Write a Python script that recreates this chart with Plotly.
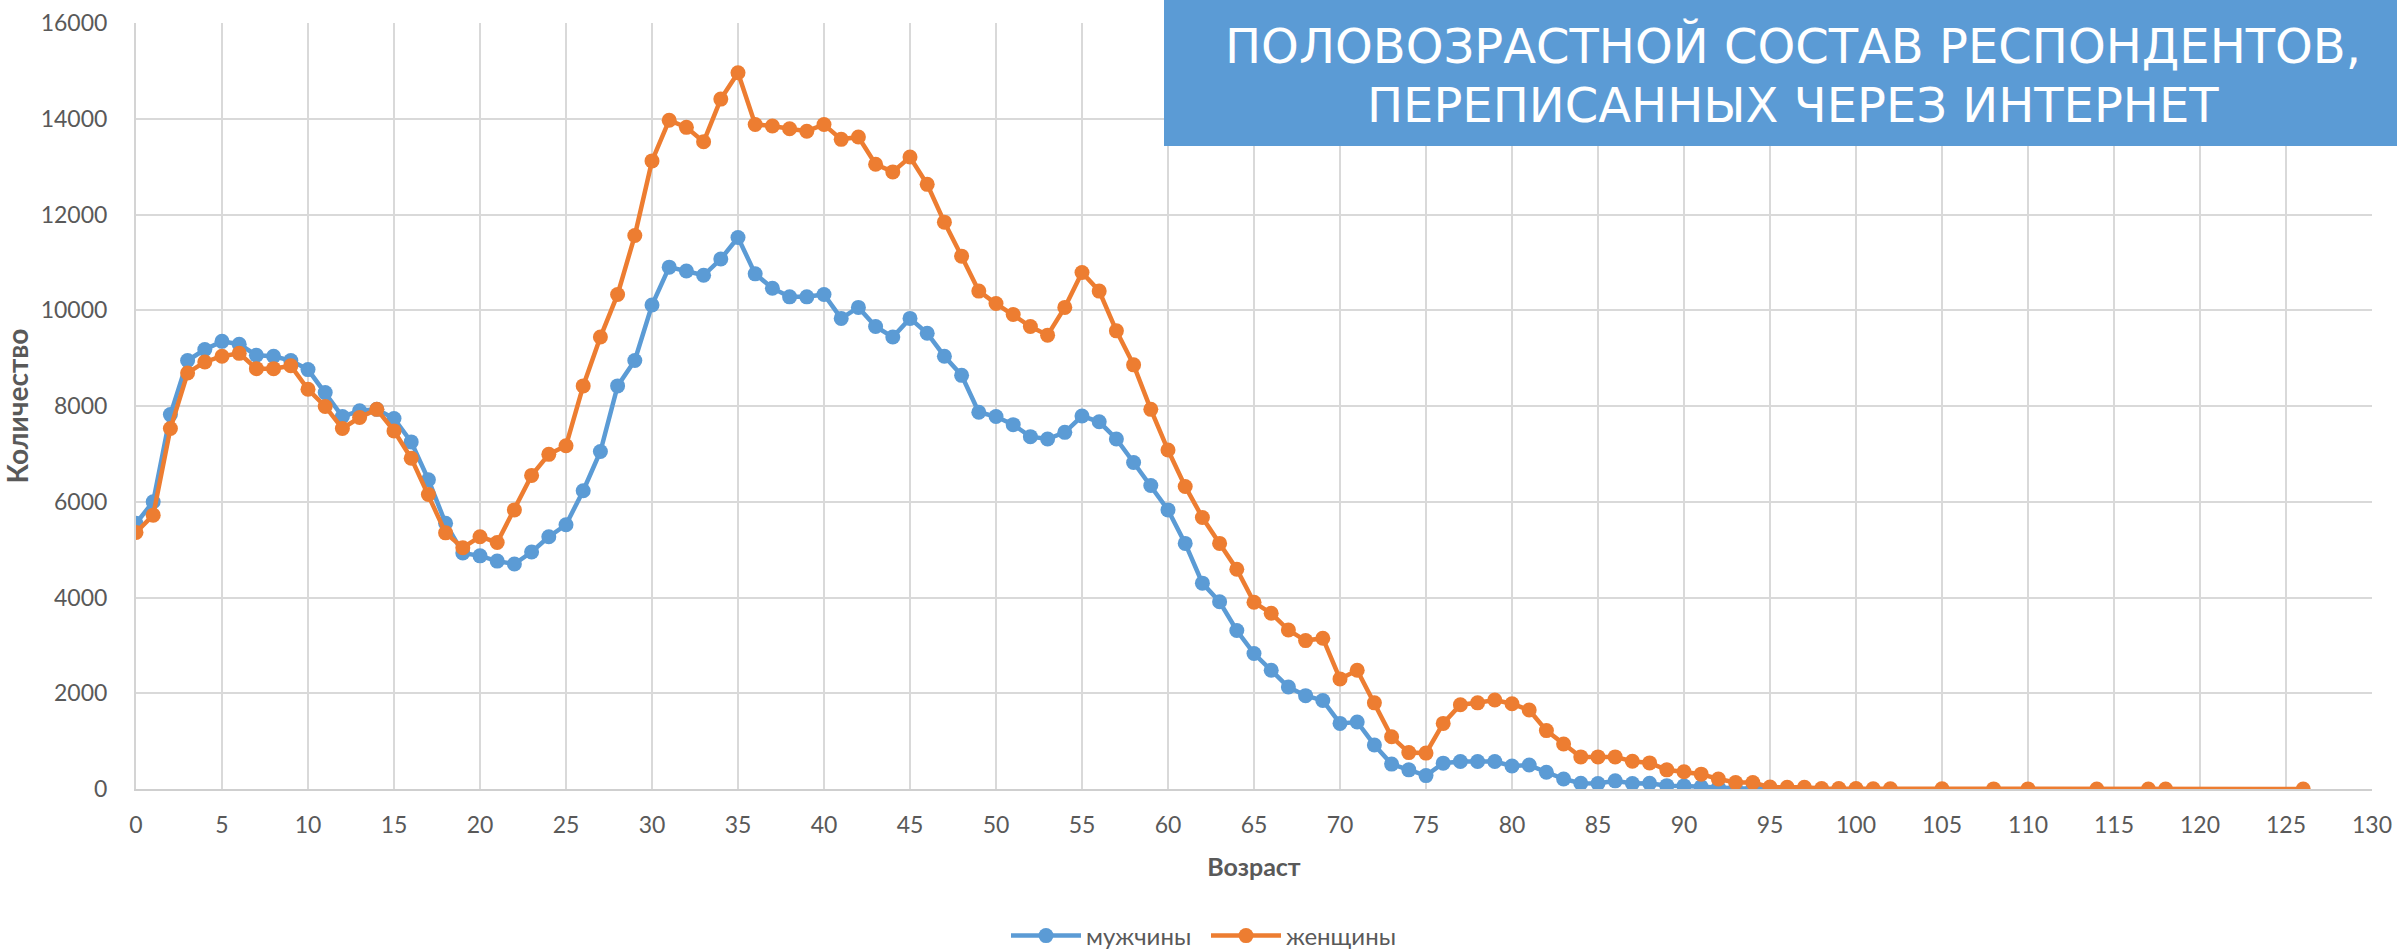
import plotly.graph_objects as go

# ---- data ----
men_age = list(range(0, 98))
men = [5550, 6000, 7820, 8950, 9180, 9350, 9290, 9060, 9040, 8950,
       8760, 8280, 7780, 7900, 7930, 7740, 7250, 6460, 5550, 4930,
       4870, 4760, 4700, 4950, 5270, 5520, 6230, 7050, 8420, 8950,
       10110, 10900, 10820, 10730, 11070, 11520, 10760, 10460, 10280, 10280,
       10330, 9830, 10060, 9660, 9440, 9830, 9520, 9040, 8640, 7870,
       7780, 7610, 7360, 7310, 7450, 7790, 7670, 7310, 6820, 6340,
       5830, 5130, 4300, 3910, 3310, 2830, 2480, 2130, 1950, 1850,
       1370, 1400, 920, 520, 400, 280, 540, 575, 575, 575,
       480, 500, 350, 210, 120, 115, 170, 115, 120, 70,
       65, 45, 30, 15, 10, 5, 5, 3]

women_age = list(range(0, 103)) + [105, 108, 110, 114, 117, 118, 126]
women = [5360, 5720, 7530, 8690, 8920, 9040, 9100, 8780, 8780, 8840,
         8350, 7990, 7530, 7760, 7930, 7480, 6910, 6150, 5350, 5040,
         5270, 5150, 5830, 6550, 6990, 7170, 8420, 9440, 10330, 11560,
         13120, 13970, 13820, 13520, 14410, 14960, 13880, 13850, 13790, 13740,
         13880, 13570, 13620, 13050, 12890, 13200, 12630, 11840, 11130, 10400,
         10140, 9910, 9660, 9480, 10060, 10790, 10400, 9570, 8860, 7930,
         7080, 6320, 5670, 5130, 4590, 3900, 3670, 3320, 3100, 3150,
         2300, 2480, 1800, 1090, 760, 750, 1370, 1760, 1800, 1860,
         1780, 1650, 1220, 940, 670, 670, 670, 580, 545, 400,
         360, 310, 210, 135, 135, 40, 35, 35, 10, 10,
         8, 5, 5, 3, 2, 2, 1, 1, 1, 1]

series_names = ["мужчины", "женщины"]
title_lines = ["ПОЛОВОЗРАСТНОЙ СОСТАВ РЕСПОНДЕНТОВ,", "ПЕРЕПИСАННЫХ ЧЕРЕЗ ИНТЕРНЕТ"]
x_title = "Возраст"
y_title = "Количество"

# ---- layout constants ----
W, H = 2397, 950
ML, MR, MT, MB = 136, 25, 23, 161
PW, PH = W - ML - MR, H - MT - MB

def px_x(p):
    return (p - ML) / PW

def px_y(p):
    return (H - MB - p) / PH

BLUE = "#5B9BD5"
ORANGE = "#ED7D31"
GRID = "#D9D9D9"
TXT = "#595959"
FONT = "Lato, 'Open Sans', sans-serif"

fig = go.Figure()
fig.add_trace(go.Scatter(x=men_age, y=men, name=series_names[0], mode="lines+markers",
                         line=dict(color=BLUE, width=4.5),
                         marker=dict(color=BLUE, size=15)))
fig.add_trace(go.Scatter(x=women_age, y=women, name=series_names[1], mode="lines+markers",
                         line=dict(color=ORANGE, width=4.5),
                         marker=dict(color=ORANGE, size=15)))

fig.update_layout(
    width=W, height=H,
    margin=dict(l=ML, r=MR, t=MT, b=MB, autoexpand=False),
    paper_bgcolor="white", plot_bgcolor="white",
    font=dict(family=FONT, size=23, color=TXT),
    showlegend=True,
    legend=dict(orientation="h", x=px_x(1206), y=px_y(936), xanchor="center", yanchor="middle",
                font=dict(size=24, color=TXT), itemwidth=70, entrywidth=115,
                traceorder="normal"),
    xaxis=dict(range=[0, 130], dtick=5, tick0=0, showgrid=True, gridcolor=GRID, gridwidth=2,
               zeroline=False, showline=True, linecolor="#CFCFCF", linewidth=2,
               ticks="outside", ticklen=0, ticklabelstandoff=14,
               tickfont=dict(size=23, color=TXT),
               title=dict(text="<b>" + x_title + "</b>", font=dict(size=25, color=TXT), standoff=22)),
    yaxis=dict(range=[0, 16000], dtick=2000, tickformat="d", showgrid=True, gridcolor=GRID, gridwidth=2,
               zeroline=False, showline=True, linecolor="#D4D4D4", linewidth=2,
               ticks="outside", ticklen=0, ticklabelstandoff=22,
               tickfont=dict(size=23, color=TXT),
               title=dict(text="<b>" + y_title + "</b>", font=dict(size=28, color=TXT), standoff=26)),
)

# title box
fig.add_shape(type="rect", xref="paper", yref="paper",
              x0=px_x(1164), x1=px_x(W + 5), y0=px_y(146), y1=px_y(-5),
              fillcolor=BLUE, line=dict(width=0), layer="above")
fig.add_annotation(xref="paper", yref="paper", x=px_x(1793), y=px_y(46),
                   xanchor="center", yanchor="middle", showarrow=False,
                   text=title_lines[0],
                   font=dict(family="DejaVu Sans", size=48, color="white"))
fig.add_annotation(xref="paper", yref="paper", x=px_x(1793), y=px_y(105),
                   xanchor="center", yanchor="middle", showarrow=False,
                   text=title_lines[1],
                   font=dict(family="DejaVu Sans", size=48, color="white"))

fig.write_html("out.html", config={"displayModeBar": False},
               post_script="document.body.style.margin='0';")
